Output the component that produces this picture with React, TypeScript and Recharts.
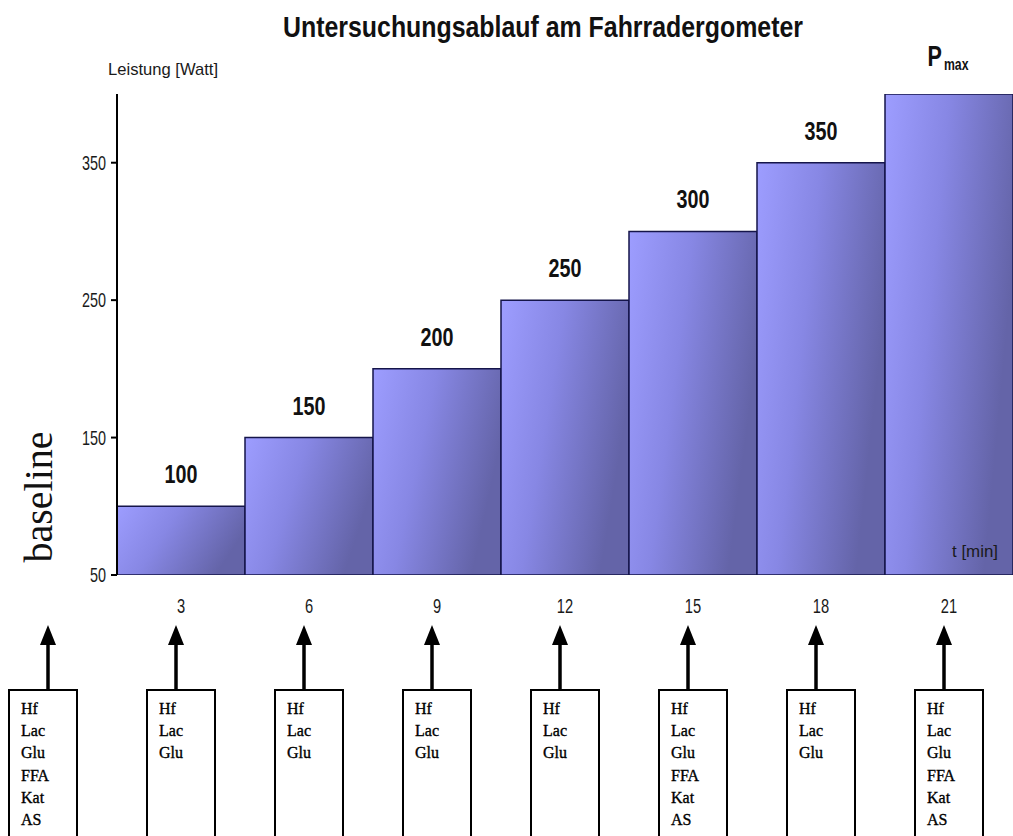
import React from 'react';
import { BarChart, Bar, XAxis, YAxis, LabelList } from 'recharts';

// Stage durations (minutes) and workload of each stage (Watt)
const minutes = ['3', '6', '9', '12', '15', '18', '21'];
const watts = [100, 150, 200, 250, 300, 350, 400];
const stageLabels = ['100', '150', '200', '250', '300', '350', 'Pmax'];
const wattTicks = [50, 150, 250, 350];
const stageBoundaries = [3, 6, 9, 12, 15, 18];

// Blood / physiological parameters sampled at each time point
const samplingPoints = ['baseline', '3', '6', '9', '12', '15', '18', '21'];
const fullPanel = ['Hf', 'Lac', 'Glu', 'FFA', 'Kat', 'AS'];
const shortPanel = ['Hf', 'Lac', 'Glu'];
const panels = [fullPanel, shortPanel, shortPanel, shortPanel, shortPanel, fullPanel, shortPanel, fullPanel];

const data = minutes.map((m, i) => ({ minute: m, watt: watts[i], label: stageLabels[i] }));

const W = 1013;
const H = 836;
const PLOT_LEFT = 117;
const PLOT_TOP = 94;
const PLOT_BOTTOM = 575;
const Y_AXIS_W = 60;
const X_AXIS_H = 30;
const BAND = (W - PLOT_LEFT) / minutes.length;

const SANS = "'Liberation Sans', Arial, Helvetica, sans-serif";
const SERIF = "'Liberation Serif', 'Times New Roman', serif";

const YTick = (props: any) => {
  const { x, y, payload } = props;
  return (
    <text
      transform={`translate(${x - 3},${y + 7}) scale(0.72,1)`}
      textAnchor="end"
      fontFamily={SANS}
      fontSize={20}
      fill="#1a1a1a"
    >
      {payload.value}
    </text>
  );
};

const XTick = (props: any) => {
  const { x, y, payload } = props;
  return (
    <text
      transform={`translate(${x},${y + 30}) scale(0.7,1)`}
      textAnchor="middle"
      fontFamily={SANS}
      fontSize={21}
      fill="#1a1a1a"
    >
      {payload.value}
    </text>
  );
};

const StageLabel = (props: any) => {
  const { x, y, width, value } = props;
  const cx = x + width / 2;
  if (value === 'Pmax') {
    return (
      <g>
        <text
          transform={`translate(${cx - 7},${y - 28}) scale(0.72,1)`}
          textAnchor="end"
          fontFamily={SANS}
          fontSize={30}
          fontWeight="bold"
          fill="#111"
        >
          P
        </text>
        <text
          transform={`translate(${cx - 5},${y - 24}) scale(0.72,1)`}
          textAnchor="start"
          fontFamily={SANS}
          fontSize={17}
          fontWeight="bold"
          fill="#111"
        >
          max
        </text>
      </g>
    );
  }
  return (
    <text
      transform={`translate(${cx},${y - 23}) scale(0.76,1)`}
      textAnchor="middle"
      fontFamily={SANS}
      fontSize={26}
      fontWeight="bold"
      fill="#111"
    >
      {value}
    </text>
  );
};

const SamplingBox = ({ arrowX, boxLeft, items }: { arrowX: number; boxLeft: number; items: string[] }) => (
  <g>
    <line x1={arrowX} y1={643} x2={arrowX} y2={690} stroke="#000" strokeWidth={3.5} />
    <polygon points={`${arrowX},625 ${arrowX - 8},645 ${arrowX + 8},645`} fill="#000" />
    <rect x={boxLeft} y={690} width={68} height={200} fill="#fff" stroke="#000" strokeWidth={2} />
    {items.map((t, k) => (
      <text
        key={t}
        x={boxLeft + 12}
        y={714 + k * 22.2}
        fontFamily={SERIF}
        fontSize={16}
        fill="#000"
        stroke="#000"
        strokeWidth={0.35}
      >
        {t}
      </text>
    ))}
  </g>
);

export default function App() {
  return (
    <div style={{ position: 'absolute', left: 0, top: 0, width: W, height: H, overflow: 'hidden', background: '#fff' }}>
      <svg width={0} height={0} style={{ position: 'absolute' }}>
        <defs>
          <linearGradient id="stageFill" x1="0" y1="0" x2="1" y2="0.35">
            <stop offset="0%" stopColor="#9d9dff" />
            <stop offset="45%" stopColor="#8787e4" />
            <stop offset="100%" stopColor="#6464a8" />
          </linearGradient>
        </defs>
      </svg>
      <BarChart
        width={W}
        height={H}
        data={data}
        barCategoryGap={0}
        margin={{ top: PLOT_TOP, right: 0, bottom: H - PLOT_BOTTOM - X_AXIS_H, left: PLOT_LEFT - Y_AXIS_W }}
      >
        <XAxis
          xAxisId="t"
          type="number"
          domain={[0, 21]}
          ticks={stageBoundaries}
          allowDataOverflow
          height={0}
          tick={false}
          tickSize={8}
          axisLine={{ stroke: '#000', strokeWidth: 3 }}
          tickLine={{ stroke: '#000', strokeWidth: 2 }}
        />
        <XAxis
          xAxisId="cat"
          dataKey="minute"
          height={X_AXIS_H}
          interval={0}
          axisLine={false}
          tickLine={false}
          tick={<XTick />}
        />
        <YAxis
          type="number"
          domain={[50, 400]}
          ticks={wattTicks}
          allowDataOverflow
          interval={0}
          width={Y_AXIS_W}
          tickSize={6}
          axisLine={{ stroke: '#000', strokeWidth: 2 }}
          tickLine={{ stroke: '#000', strokeWidth: 2 }}
          tick={<YTick />}
        />
        <Bar
          xAxisId="cat"
          dataKey="watt"
          fill="url(#stageFill)"
          stroke="#15154a"
          strokeWidth={1.5}
          isAnimationActive={false}
        >
          <LabelList dataKey="label" content={<StageLabel />} />
        </Bar>
      </BarChart>
      <svg width={W} height={H} style={{ position: 'absolute', left: 0, top: 0, pointerEvents: 'none' }}>
        <text x={283} y={37} textLength={520} lengthAdjust="spacingAndGlyphs" fontFamily={SANS} fontSize={30} fontWeight="bold" fill="#111">
          Untersuchungsablauf am Fahrradergometer
        </text>
        <text x={108} y={75} textLength={110} lengthAdjust="spacingAndGlyphs" fontFamily={SANS} fontSize={17} fill="#1a1a1a">
          Leistung [Watt]
        </text>
        <text x={952} y={557} textLength={46} lengthAdjust="spacingAndGlyphs" fontFamily={SANS} fontSize={16} fill="#1a1a1a">
          t [min]
        </text>
        <text
          transform={`translate(52,497) rotate(-90)`}
          textAnchor="middle"
          fontFamily={SERIF}
          fontSize={40}
          fill="#111"
        >
          baseline
        </text>
        {samplingPoints.map((p, i) => {
          const arrowX = i === 0 ? PLOT_LEFT - 69 : PLOT_LEFT + BAND * (i - 0.5) - 5;
          const boxLeft = i === 0 ? arrowX - 39 : arrowX - 29;
          return <SamplingBox key={p} arrowX={arrowX} boxLeft={boxLeft} items={panels[i]} />;
        })}
      </svg>
    </div>
  );
}
